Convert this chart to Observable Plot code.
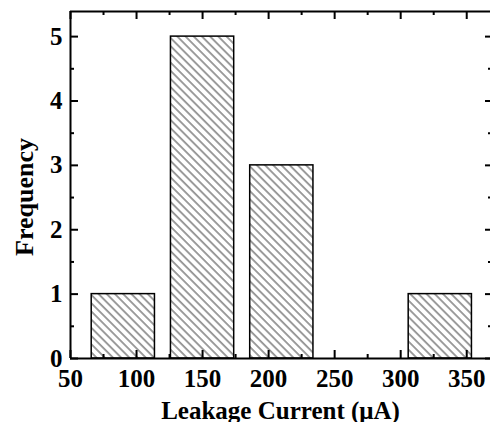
<!DOCTYPE html>
<html>
<head>
<meta charset="utf-8">
<script src="https://cdn.jsdelivr.net/npm/d3@7"></script>
<script src="https://cdn.jsdelivr.net/npm/@observablehq/plot@0.6"></script>
<style>
  html, body { margin: 0; padding: 0; background: #fff; overflow: hidden; }
  #chart svg { display: block; }
</style>
</head>
<body>
<div id="chart"></div>
<script>
// Histogram bins (leakage current, µA) and their counts
const binStart = [60, 120, 180, 300];
const binEnd = [120, 180, 240, 360];
const counts = [1, 5, 3, 1];

// Axis extents and tick values
const xDomain = [50, 368];
const yDomain = [0, 5.39];
const xMajor = [50, 100, 150, 200, 250, 300, 350];
const xMinor = [75, 125, 175, 225, 275, 325];
const yMajor = [0, 1, 2, 3, 4, 5];
const yMinor = [0.5, 1.5, 2.5, 3.5, 4.5];

const xTitle = "Leakage Current (\u03BCA)";
const yTitle = "Frequency";

const bins = binStart.map((s, i) => ({x1: s, x2: binEnd[i], y: counts[i]}));

const W = 490, H = 422;
const mL = 70, mR = 0, mT = 11, mB = 64;
const fw = W - mL - mR, fh = H - mT - mB;
const ink = "#000";

const chart = Plot.plot({
  width: W,
  height: H,
  marginLeft: mL,
  marginRight: mR,
  marginTop: mT,
  marginBottom: mB,
  style: {fontFamily: "'Liberation Serif', 'Times New Roman', serif", fontWeight: "bold", fontSize: "25px", color: ink, background: "#fff"},
  x: {domain: xDomain},
  y: {domain: yDomain},
  marks: [
    // hatched bars
    Plot.rectY(bins, {x1: "x1", x2: "x2", y: "y", insetLeft: 8, insetRight: 8, fill: "url(#hatch)", stroke: ink, strokeWidth: 1.5}),
    // frame: left, bottom, top
    Plot.ruleX([xDomain[0]], {stroke: ink, strokeWidth: 2}),
    Plot.ruleY([yDomain[0]], {stroke: ink, strokeWidth: 2}),
    Plot.ruleY([yDomain[1]], {stroke: ink, strokeWidth: 2}),
    // inward ticks, bottom
    Plot.ruleX(xMajor, {x: d => d, insetTop: fh - 8, stroke: ink, strokeWidth: 2}),
    Plot.ruleX(xMinor, {x: d => d, insetTop: fh - 4, stroke: ink, strokeWidth: 2}),
    // inward ticks, top
    Plot.ruleX(xMajor, {x: d => d, insetBottom: fh - 8, stroke: ink, strokeWidth: 2}),
    Plot.ruleX(xMinor, {x: d => d, insetBottom: fh - 4, stroke: ink, strokeWidth: 2}),
    // inward ticks, left
    Plot.ruleY(yMajor, {y: d => d, insetRight: fw - 8, stroke: ink, strokeWidth: 2}),
    Plot.ruleY(yMinor, {y: d => d, insetRight: fw - 4, stroke: ink, strokeWidth: 2}),
    // inward ticks, right
    Plot.ruleY(yMajor, {y: d => d, insetLeft: fw - 5, stroke: ink, strokeWidth: 2}),
    Plot.ruleY(yMinor, {y: d => d, insetLeft: fw - 2, stroke: ink, strokeWidth: 2}),
    // tick labels
    Plot.axisX({ticks: xMajor, tickSize: 0, tickPadding: 11, tickFormat: d3.format("d"), label: null, fontSize: 25, fill: ink}),
    Plot.axisY({ticks: yMajor, tickSize: 0, tickPadding: 8, tickFormat: d3.format("d"), label: null, fontSize: 25, fill: ink}),
    // axis titles
    Plot.text([xTitle], {text: d => d, frameAnchor: "bottom", lineAnchor: "bottom", textAnchor: "middle", dy: 60, fontSize: 25, fill: ink}),
    Plot.text([yTitle], {text: d => d, frameAnchor: "left", textAnchor: "middle", rotate: -90, dx: -46, dy: 12, fontSize: 26, fill: ink})
  ]
});

// diagonal hatch fill used by the bars
const ns = "http://www.w3.org/2000/svg";
const defs = document.createElementNS(ns, "defs");
const pat = document.createElementNS(ns, "pattern");
pat.setAttribute("id", "hatch");
pat.setAttribute("patternUnits", "userSpaceOnUse");
pat.setAttribute("width", "5.8");
pat.setAttribute("height", "10");
pat.setAttribute("patternTransform", "rotate(-45)");
const bg = document.createElementNS(ns, "rect");
bg.setAttribute("width", "5.8");
bg.setAttribute("height", "10");
bg.setAttribute("fill", "#fff");
const ln = document.createElementNS(ns, "line");
ln.setAttribute("x1", "1");
ln.setAttribute("x2", "1");
ln.setAttribute("y1", "0");
ln.setAttribute("y2", "10");
ln.setAttribute("stroke", "#222");
ln.setAttribute("stroke-width", "0.9");
pat.appendChild(bg);
pat.appendChild(ln);
defs.appendChild(pat);
chart.insertBefore(defs, chart.firstChild);

document.getElementById("chart").appendChild(chart);
</script>
</body>
</html>
